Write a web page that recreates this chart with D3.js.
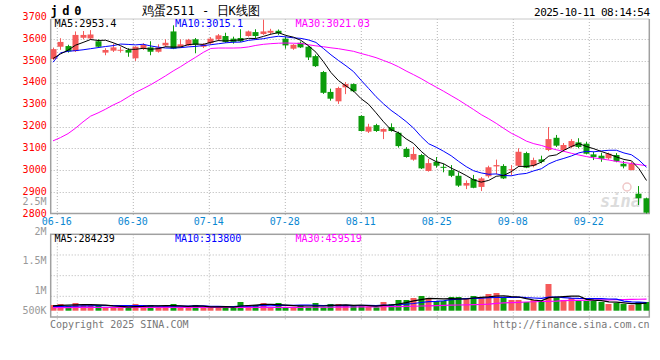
<!DOCTYPE html>
<html><head><meta charset="utf-8">
<script src="https://cdn.jsdelivr.net/npm/d3@7/dist/d3.min.js"></script>
<style>body{margin:0;background:#fff;overflow:hidden}text{font-family:"DejaVu Sans Mono",monospace}</style>
</head><body><svg id="c" width="660" height="360"></svg>
<script>
const dates = ["06-13","06-16","06-17","06-18","06-19","06-20","06-23","06-24","06-25","06-26","06-27","06-30",
"07-01","07-02","07-03","07-04","07-07","07-08","07-09","07-10","07-11","07-14","07-15","07-16","07-17","07-18",
"07-21","07-22","07-23","07-24","07-25","07-28","07-29","07-30","07-31","08-01","08-04","08-05","08-06","08-07","08-08",
"08-11","08-12","08-13","08-14","08-15","08-18","08-19","08-20","08-21","08-22","08-25","08-26","08-27","08-28","08-29",
"09-01","09-02","09-03","09-04","09-05","09-08","09-09","09-10","09-11","09-12","09-15","09-16","09-17","09-18","09-19",
"09-22","09-23","09-24","09-25","09-26","09-29","09-30","10-09","10-10"];
const open  = [3510,3566,3569,3546,3607,3604,3591,3539,3548,3549,3551,3513,3559,3563,3543,3572,3636,3566,3572,3600,
3566,3582,3600,3615,3603,3606,3615,3633,3624,3630,3639,3603,3557,3584,3566,3523,3450,3359,3316,3380,3395,3249,3177,3207,
3177,3198,3172,3098,3049,3070,2997,3039,3016,3001,2975,2930,2960,2924,2973,3018,3020,3001,3021,3079,3021,3050,3093,3149,
3093,3108,3128,3122,3073,3067,3055,3070,3030,3001,2893,2872];
const high  = [3562,3605,3575,3636,3638,3642,3600,3559,3580,3566,3559,3568,3582,3591,3577,3600,3664,3600,3602,3606,
3582,3610,3624,3630,3612,3646,3640,3646,3690,3648,3645,3612,3578,3590,3570,3530,3455,3374,3383,3404,3398,3252,3213,3213,
3192,3215,3177,3106,3107,3075,3052,3061,3030,3024,2991,2954,2979,2969,3021,3049,3028,3024,3101,3085,3058,3067,3198,3162,
3125,3143,3147,3131,3085,3081,3081,3079,3043,3039,2928,2875];
const low   = [3505,3552,3539,3542,3600,3599,3562,3527,3542,3539,3520,3501,3551,3527,3539,3566,3555,3563,3570,3536,
3560,3575,3592,3584,3580,3588,3612,3606,3620,3621,3620,3557,3552,3560,3505,3473,3350,3319,3304,3349,3358,3178,3171,3176,
3143,3177,3104,3058,3044,3006,2994,3012,2991,2969,2924,2914,2918,2905,2966,2982,2960,2978,3015,3010,3014,3032,3088,3107,
3085,3101,3101,3073,3047,3039,3049,3037,3009,3000,2841,2800];
const close = [3555,3588,3545,3620,3620,3622,3566,3551,3563,3552,3539,3566,3574,3543,3563,3584,3557,3577,3598,3575,
3577,3603,3618,3588,3588,3591,3636,3615,3636,3639,3627,3572,3575,3563,3517,3477,3355,3328,3377,3395,3362,3180,3200,3180,
3189,3180,3111,3061,3075,3009,3033,3021,3013,2975,2930,2942,2920,2963,3014,3024,2963,3005,3085,3012,3047,3039,3143,3113,
3116,3134,3107,3076,3061,3053,3076,3041,3018,3030,2872,2806];
// volume in thousands
const volume = [217,255,179,293,217,217,217,129,129,129,129,255,179,217,129,179,255,129,129,217,
129,129,129,179,129,331,217,217,293,129,293,129,129,217,129,293,129,255,255,179,179,217,150,129,
331,255,407,407,483,559,483,369,369,521,521,445,559,483,635,673,483,407,407,331,407,331,1015,521,
407,483,369,369,369,331,255,293,255,217,331,331];
// moving-average values read from the picture where earlier history is not shown
const ma5Head  = [3512,3533,3550,3573];
const ma10Head = [3495,3538,3545,3548,3552,3557,3562,3567,3571];
const ma30 = [3135,3150,3168,3193,3222,3248,3263,3280,3299,3315,3336,3357,3374,3392,3412,3433,3455,3475,3497,3518,
3540,3558,3560,3560,3560,3561,3565,3572,3577,3580,3582,3583,3582,3581,3575,3570,3566,3561,3557,3551,3545,3535,3526,3516,
3503,3490,3474,3455,3438,3420,3400,3381,3362,3342,3322,3300,3278,3255,3236,3215,3192,3170,3153,3134,3122,3114,3103,3094,
3087,3078,3070,3063,3057,3052,3047,3041,3036,3031,3026,3021];
const volMa5Head  = [180,200,210,225];
const volMa10Head = [160,165,170,175,180,185,190,193,196];
const volMa30 = [120,120,120,121,121,122,122,122,123,123,124,124,125,125,125,126,126,126,127,127,
127,128,128,128,128,129,129,129,130,130,130,130,130,130,131,131,132,132,134,137,140,142,145,148,
150,153,158,163,170,178,187,195,203,210,217,222,228,235,250,275,300,310,320,330,340,350,357,365,
380,390,395,400,405,410,415,420,425,430,435,440];
const priceTicks = [2800,2900,3000,3100,3200,3300,3400,3500,3600,3700];
const gridPrices = [2900,3000,3100,3200,3300,3400,3500,3600];
const dateTicks = ["06-16","06-30","07-14","07-28","08-11","08-25","09-08","09-22"];
const volTicks = [2500000,2000000,1500000,1000000,500000];
const volTickLabels = ["2.5M","2M","1.5M","1M","500K"];
const volGrid = [0.25,0.5,0.75];
const titleCode = "jd0";
const titleName = "鸡蛋2511 - 日K线图";
const stamp = "2025-10-11 08:14:54";
const priceMaLabels = ["MA5:2953.4","MA10:3015.1","MA30:3021.03"];
const volMaLabels = ["MA5:284239","MA10:313800","MA30:459519"];

function movingAvg(arr, n, head){
  return arr.map((v,i)=> i < n-1 ? head[i] : d3.mean(arr.slice(i-n+1,i+1)));
}
const ma5 = movingAvg(close,5,ma5Head), ma10 = movingAvg(close,10,ma10Head);
const vma5 = movingAvg(volume,5,volMa5Head), vma10 = movingAvg(volume,10,volMa10Head);

const L=50.7, R=649.3, mT=19, mB=213.5, vT=234.3, vB=317;
const RED="#f55a5a", GREEN="#0c9c0c", GRAY="#a0a0a0";
const svg = d3.select("#c");
const x = d3.scalePoint().domain(dates).range([52.5,646]);
const gx = d3.scaleLinear().domain([1,71]).range([57.3,589.3]);
const y = d3.scaleLinear().domain([2800,3600]).range([214,39.3]);
const vy = d3.scaleLinear().domain([0,1000]).range([310.7,284.4]);
const vLab = d3.scaleLinear().domain([1000000,2000000]).range([290.7,231]);
const vGridY = d3.scaleLinear().domain([0,1]).range([vB,vT]);

const defs = svg.append("defs");
defs.append("clipPath").attr("id","cm").append("rect").attr("x",L).attr("y",mT).attr("width",R-L).attr("height",mB-mT);
defs.append("clipPath").attr("id","cv").append("rect").attr("x",L).attr("y",vT).attr("width",R-L).attr("height",vB-vT);

const dot = {"stroke":"#b4b4b4","stroke-width":1,"stroke-dasharray":"1,2"};
function styl(sel,o){for(const k in o) sel.attr(k,o[k]); return sel;}

styl(svg.append("g").selectAll("line").data(gridPrices).join("line")
  .attr("x1",L).attr("x2",R).attr("y1",d=>Math.round(y(d))+0.5).attr("y2",d=>Math.round(y(d))+0.5),dot);
styl(svg.append("g").selectAll("line").data(dateTicks).join("line")
  .attr("x1",d=>gx(dates.indexOf(d))).attr("x2",d=>gx(dates.indexOf(d))).attr("y1",mT).attr("y2",mB+3),dot);
styl(svg.append("g").selectAll("line").data(volGrid).join("line")
  .attr("x1",L).attr("x2",R).attr("y1",d=>vGridY(d)).attr("y2",d=>vGridY(d)),dot);
styl(svg.append("g").selectAll("line").data(dateTicks).join("line")
  .attr("x1",d=>gx(dates.indexOf(d))).attr("x2",d=>gx(dates.indexOf(d))).attr("y1",vT).attr("y2",vB+4),dot);

svg.append("line").attr("x1",L).attr("x2",R).attr("y1",mT).attr("y2",mT).attr("stroke","#c8c8c8");
svg.append("line").attr("x1",L).attr("x2",L).attr("y1",mT).attr("y2",mB).attr("stroke",GRAY).attr("stroke-width",1.5);
svg.append("line").attr("x1",R).attr("x2",R).attr("y1",mT).attr("y2",mB).attr("stroke",GRAY).attr("stroke-width",1.5);
svg.append("line").attr("x1",L-0.7).attr("x2",R+0.7).attr("y1",mB).attr("y2",mB).attr("stroke",GRAY).attr("stroke-width",1.5);
svg.append("rect").attr("x",L).attr("y",vT).attr("width",R-L).attr("height",vB-vT).attr("fill","none").attr("stroke",GRAY).attr("stroke-width",1.5);

// watermark
svg.append("circle").attr("cx",627).attr("cy",187).attr("r",4).attr("fill","none").attr("stroke","#f0c8c8").attr("stroke-width",1.5);
svg.append("text").attr("x",600).attr("y",207).attr("font-family","DejaVu Sans").attr("font-style","italic")
  .attr("font-weight","bold").attr("font-size",17).attr("fill","#dcdcdc").text("sina");

const gm = svg.append("g").attr("clip-path","url(#cm)");
const col = i => close[i] >= open[i] ? RED : GREEN;
const idx = d3.range(dates.length);
gm.selectAll("line.w").data(idx).join("line").attr("class","w")
  .attr("x1",i=>Math.round(x(dates[i]))+0.5).attr("x2",i=>Math.round(x(dates[i]))+0.5)
  .attr("y1",i=>y(high[i])).attr("y2",i=>y(low[i])).attr("stroke",col).attr("stroke-width",1);
gm.selectAll("rect").data(idx).join("rect")
  .attr("x",i=>Math.round(x(dates[i]))-2.5).attr("width",6)
  .attr("y",i=>y(Math.max(open[i],close[i])))
  .attr("height",i=>Math.max(1,Math.abs(y(open[i])-y(close[i]))))
  .attr("fill",col);
const line = d3.line().x((d,i)=>x(dates[i])+0.5).y(d=>y(d));
[[ma30,"#ff00ff"],[ma10,"#0000ff"],[ma5,"#000"]].forEach(([a,c])=>
  gm.append("path").attr("d",line(a)).attr("fill","none").attr("stroke",c).attr("stroke-width",1));

const gv = svg.append("g").attr("clip-path","url(#cv)");
gv.selectAll("rect").data(idx).join("rect")
  .attr("x",i=>Math.round(x(dates[i]))-2.5).attr("width",6)
  .attr("y",i=>vy(volume[i])).attr("height",i=>vy(0)-vy(volume[i])).attr("fill",col);
const vline = d3.line().x((d,i)=>x(dates[i])+0.5).y(d=>vy(d));
[[volMa30,"#ff00ff"],[vma10,"#0000ff"],[vma5,"#000"]].forEach(([a,c])=>
  gv.append("path").attr("d",vline(a)).attr("fill","none").attr("stroke",c).attr("stroke-width",1.2));

const ay = svg.append("g").attr("transform",`translate(${L},0)`)
  .call(d3.axisLeft(y).tickValues(priceTicks).tickSize(0).tickPadding(4).tickFormat(d3.format("d")));
ay.select(".domain").remove();
ay.selectAll("text").attr("fill","#f00").attr("font-size",10).attr("font-family","DejaVu Sans Mono").attr("dy","0.2em");

const ax = svg.append("g").attr("transform",`translate(0,${mB})`)
  .call(d3.axisBottom(gx).tickValues(dateTicks.map(d=>dates.indexOf(d))).tickSize(0).tickPadding(4.5).tickFormat(i=>dates[i]));
ax.select(".domain").remove();
ax.selectAll("text").attr("fill","#0a88d2").attr("font-size",10).attr("font-family","DejaVu Sans Mono").attr("dx","-0.1em");

svg.append("g").selectAll("text").data(volTicks).join("text")
  .attr("x",46.5).attr("y",d=>Math.min(vLab(d),310)).attr("dy","0.35em").attr("text-anchor","end")
  .attr("font-size",10).attr("fill","#999").text((d,i)=>volTickLabels[i]);

svg.append("text").attr("x",50.5).attr("y",14.5).attr("font-size",12).attr("font-weight","bold")
  .attr("letter-spacing","4.6px").attr("fill","#000").text(titleCode);
svg.append("text").attr("x",141.5).attr("y",15).attr("font-family","'Noto Sans CJK SC'").attr("font-size",13)
  .attr("textLength",118.5).attr("lengthAdjust","spacingAndGlyphs").attr("fill","#000").text(titleName);
svg.append("text").attr("x",649.5).attr("y",15.5).attr("text-anchor","end").attr("font-size",11)
  .attr("letter-spacing","-0.55px").attr("fill","#000").text(stamp);

const maCols = ["#000","#0000ff","#ff00ff"];
svg.append("g").selectAll("text").data(priceMaLabels).join("text")
  .attr("x",(d,i)=>54.5+i*120.5).attr("y",27).attr("font-size",10.3).attr("fill",(d,i)=>maCols[i]).text(d=>d);
svg.append("g").selectAll("text").data(volMaLabels).join("text")
  .attr("x",(d,i)=>54.5+i*120.5).attr("y",241.5).attr("font-size",10).attr("fill",(d,i)=>maCols[i]).text(d=>d);

svg.append("text").attr("x",50).attr("y",327.5).attr("font-size",10).attr("fill","#777").text("Copyright 2025 SINA.COM");
svg.append("text").attr("x",649.5).attr("y",327.5).attr("text-anchor","end").attr("font-size",10).attr("fill","#777").text("http://finance.sina.com.cn");
</script></body></html>
